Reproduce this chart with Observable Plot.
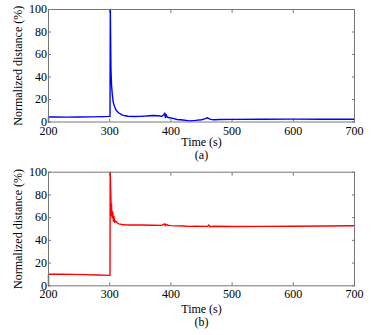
<!DOCTYPE html>
<html>
<head>
<meta charset="utf-8">
<script src="https://cdn.jsdelivr.net/npm/d3@7"></script>
<script src="https://cdn.jsdelivr.net/npm/@observablehq/plot@0.6"></script>
<style>
  html, body { margin: 0; padding: 0; background: #fff; font-family: "Liberation Serif", serif; }
  #chart { width: 374px; }
  #chart svg { display: block; }
</style>
</head>
<body>
<div id="chart"></div>
<script>
// ---- data ----
const xTicks = [200, 300, 400, 500, 600, 700];
const yTicks = [0, 20, 40, 60, 80, 100];
const xLabel = "Time (s)";
const yLabel = "Normalized distance (%)";
const panelLabels = ["(a)", "(b)"];

const blueT = [200, 200, 210, 230, 250, 270, 290, 300.5, 301, 301.5, 302, 302.5, 303, 304, 305, 306, 308, 310, 312, 315, 318, 320, 325, 330, 340, 350, 360, 370, 380, 385, 388, 390, 391, 392, 394, 398, 402, 410, 420, 430, 440, 450, 455, 460, 462, 465, 470, 480, 500, 550, 600, 650, 700];
const blueV = [0, 4.6, 4.5, 4.3, 4.4, 4.6, 4.8, 5.0, 100, 75, 48, 40, 33, 26, 21, 17, 13.5, 11, 9.5, 8, 7, 6.3, 5.5, 5.1, 4.9, 5.0, 5.3, 5.8, 5.6, 5.0, 6.2, 8.0, 4.0, 6.8, 4.2, 3.8, 3.4, 2.2, 1.8, 1.0, 1.4, 2.0, 2.8, 3.8, 3.0, 2.3, 2.0, 2.2, 2.3, 2.5, 2.6, 2.5, 2.5];

const redT = [200, 200, 220, 240, 260, 280, 300.5, 300.8, 301.5, 302, 302.5, 303, 303.5, 304, 305, 306, 307, 308, 310, 312, 315, 320, 325, 330, 350, 370, 385, 390, 391, 392, 395, 400, 420, 430, 440, 460, 462, 464, 470, 500, 550, 600, 650, 700];
const redV = [0, 10.2, 10.3, 10.1, 9.8, 9.5, 9.2, 100, 86, 76, 62, 72, 64, 60, 65, 57, 61, 56, 57, 55.5, 54.5, 54, 53.7, 53.5, 53.5, 53.3, 53.2, 54.6, 52.8, 54, 53.3, 53, 52.7, 52.3, 52.5, 52.3, 53.5, 52, 52.4, 52.2, 52.3, 52.4, 52.6, 52.8];

const blueData = blueT.map((t, i) => ({t, v: blueV[i]}));
const redData = redT.map((t, i) => ({t, v: redV[i]}));

const FONT = "Liberation Serif";

function panel(data, color, label, opts) {
  return Plot.plot({
    width: 374,
    height: opts.height,
    marginLeft: 48,
    marginRight: 20,
    marginTop: opts.top,
    marginBottom: opts.bottom,
    style: "font-family: 'Liberation Serif', serif; font-size: 12px; color: #000; background: #fff;",
    x: {domain: [200, 700]},
    y: {domain: [0, 100]},
    marks: [
      Plot.axisX({anchor: "bottom", ticks: xTicks, tickSize: -3, tickPadding: 7, label: null, stroke: "#777", fill: "#000", fontSize: 12}),
      Plot.axisX({anchor: "top", ticks: xTicks, tickSize: -3, tickFormat: () => "", label: null, stroke: "#777"}),
      Plot.axisY({anchor: "left", ticks: yTicks, tickSize: -3, tickPadding: 4.5, label: null, stroke: "#777", fill: "#000", fontSize: 12}),
      Plot.axisY({anchor: "right", ticks: yTicks, tickSize: -3, tickFormat: () => "", label: null, stroke: "#777"}),
      Plot.line(data, {x: "t", y: "v", stroke: color, strokeWidth: 1.4}),
      Plot.frame({stroke: "#777", strokeWidth: 1}),
      Plot.text([xLabel], {frameAnchor: "bottom", dy: opts.xlabDy, text: d => d, fontSize: 12, fill: "#000"}),
      Plot.text([label], {frameAnchor: "bottom", dy: opts.capDy, text: d => d, fontSize: 12, fill: "#000"}),
      Plot.text([yLabel], {frameAnchor: "left", dx: -30, rotate: -90, textAnchor: "middle", text: d => d, fontSize: 12, fill: "#000"})
    ]
  });
}

const chart = document.getElementById("chart");
chart.append(panel(blueData, "#0000ff", panelLabels[0], {height: 165, top: 9, bottom: 43.5, xlabDy: 23.5, capDy: 36.8}));
chart.append(panel(redData, "#ff0000", panelLabels[1], {height: 170, top: 6.7, bottom: 49.7, xlabDy: 27.4, capDy: 40.4}));
d3.selectAll("#chart svg, #chart svg g, #chart svg text")
  .attr("font-family", FONT)
  .style("font-family", "'Liberation Serif', serif");
</script>
</body>
</html>
